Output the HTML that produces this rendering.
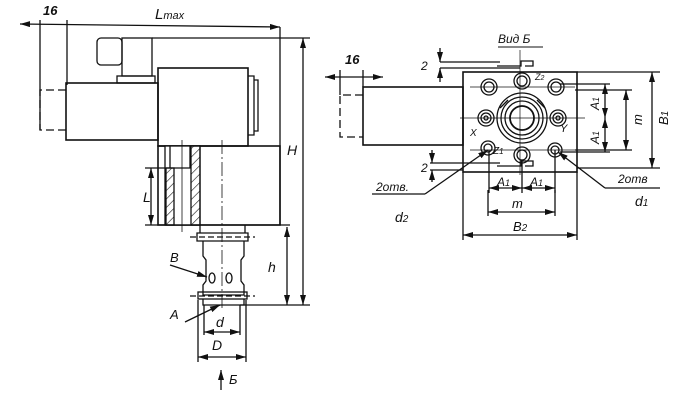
<!DOCTYPE html>
<html><head><meta charset="utf-8"><style>
html,body{margin:0;padding:0;background:#fff;width:679px;height:401px;overflow:hidden}
text{font-family:"Liberation Sans",sans-serif;font-style:italic;fill:#111}
</style></head><body>
<svg width="679" height="401" viewBox="0 0 679 401" xmlns="http://www.w3.org/2000/svg">
<defs>
<marker id="a" viewBox="0 0 10 6" refX="10" refY="3" markerWidth="10" markerHeight="6" orient="auto-start-reverse" markerUnits="userSpaceOnUse"><path d="M0,0L10,3L0,6z" fill="#111"/></marker>
<pattern id="h" width="6" height="6" patternUnits="userSpaceOnUse" patternTransform="rotate(45)"><line x1="0" y1="0" x2="0" y2="6" stroke="#111" stroke-width="1.2"/></pattern>
</defs>
<g stroke="#111" fill="none" stroke-width="1.3">
<!-- LEFT VIEW -->
<line x1="20" y1="24" x2="280" y2="27" marker-start="url(#a)" marker-end="url(#a)"/>
<line x1="40" y1="20" x2="40" y2="130"/>
<line x1="67" y1="20" x2="67" y2="85"/>
<rect x="97" y="38" width="25" height="27" rx="4"/>
<rect x="122" y="38" width="30" height="38"/>
<rect x="117" y="76" width="38" height="7"/>
<line x1="152" y1="38" x2="310" y2="38"/>
<line x1="280" y1="27" x2="280" y2="225"/>
<rect x="66" y="83" width="92" height="57" stroke-width="1.6"/>
<path d="M66,90H40V130H66" stroke-dasharray="8,4"/>
<rect x="158" y="68" width="90" height="78" stroke-width="1.6"/>
<path d="M248,76h6v59h-6M254,80h4v51h-4"/>
<rect x="158" y="146" width="122" height="79" stroke-width="1.6"/>
<rect x="165" y="146" width="35" height="79" fill="#fff"/>
<rect x="166" y="168" width="8" height="57" fill="url(#h)"/>
<rect x="191" y="146" width="9" height="79" fill="url(#h)"/>
<line x1="170" y1="146" x2="170" y2="168"/><line x1="190" y1="146" x2="190" y2="168"/>
<line x1="166" y1="168" x2="191" y2="168"/>
<line x1="182" y1="140" x2="182" y2="232" stroke-width="0.8"/>
<line x1="222" y1="140" x2="222" y2="310" stroke-width="0.8" stroke-dasharray="14,3,2,3"/>
<line x1="145" y1="168" x2="165" y2="168"/>
<line x1="145" y1="225" x2="290" y2="225"/>
<line x1="151" y1="168" x2="151" y2="225" marker-start="url(#a)" marker-end="url(#a)"/>
<!-- cartridge -->
<path d="M200,225v8h45v-8M197,233h51v8h-51zM203,241v15l3,4v21l-3,4v10h41v-10l-3,-4v-21l3,-4v-15"/>
<rect x="198" y="292" width="49" height="7"/>
<path d="M203,299v6h41v-6"/>
<line x1="190" y1="237" x2="255" y2="237" stroke-dasharray="6,3"/>
<line x1="190" y1="296" x2="255" y2="296" stroke-dasharray="6,3"/>
<ellipse cx="212" cy="278" rx="3" ry="5"/><ellipse cx="229" cy="278" rx="3" ry="5"/>
<line x1="240" y1="305" x2="310" y2="305"/>
<line x1="287" y1="227" x2="287" y2="305" marker-start="url(#a)" marker-end="url(#a)"/>
<line x1="303" y1="38" x2="303" y2="305" marker-start="url(#a)" marker-end="url(#a)"/>
<line x1="170" y1="265" x2="207" y2="277" marker-end="url(#a)"/>
<line x1="185" y1="322" x2="220" y2="305" marker-end="url(#a)"/>
<line x1="204" y1="305" x2="204" y2="335"/><line x1="240" y1="305" x2="240" y2="335"/>
<line x1="198" y1="300" x2="198" y2="362"/><line x1="246" y1="300" x2="246" y2="362"/>
<line x1="204" y1="332" x2="240" y2="332" marker-start="url(#a)" marker-end="url(#a)"/>
<line x1="198" y1="357" x2="246" y2="357" marker-start="url(#a)" marker-end="url(#a)"/>
<line x1="221" y1="390" x2="221" y2="370" marker-end="url(#a)"/>
<!-- RIGHT VIEW -->
<line x1="325" y1="77" x2="383" y2="77" marker-start="url(#a)" marker-end="url(#a)"/>
<line x1="340" y1="70" x2="340" y2="95"/><line x1="363" y1="70" x2="363" y2="87"/>
<rect x="363" y="87" width="100" height="58" stroke-width="1.6"/>
<path d="M363,95H340V137H363" stroke-dasharray="8,4"/>
<rect x="463" y="72" width="114" height="100" stroke-width="1.6"/>
<line x1="463" y1="172" x2="463" y2="240"/><line x1="577" y1="172" x2="577" y2="240"/>
<line x1="463" y1="235" x2="577" y2="235" marker-start="url(#a)" marker-end="url(#a)"/>
<line x1="489" y1="150" x2="489" y2="193"/><line x1="555" y1="150" x2="555" y2="193"/>
<line x1="522" y1="160" x2="522" y2="193"/>
<line x1="489" y1="188" x2="522" y2="188" marker-start="url(#a)" marker-end="url(#a)"/>
<line x1="522" y1="188" x2="555" y2="188" marker-start="url(#a)" marker-end="url(#a)"/>
<line x1="488" y1="212" x2="555" y2="212" marker-start="url(#a)" marker-end="url(#a)"/>
<line x1="488" y1="190" x2="488" y2="216"/><line x1="555" y1="190" x2="555" y2="216"/>
<line x1="577" y1="72" x2="660" y2="72"/><line x1="577" y1="168" x2="660" y2="168"/>
<line x1="652" y1="72" x2="652" y2="168" marker-start="url(#a)" marker-end="url(#a)"/>
<line x1="560" y1="84" x2="610" y2="84"/><line x1="560" y1="152" x2="610" y2="152"/>
<line x1="605" y1="84" x2="605" y2="118" marker-start="url(#a)" marker-end="url(#a)"/>
<line x1="605" y1="118" x2="605" y2="152" marker-start="url(#a)" marker-end="url(#a)"/>
<line x1="575" y1="90" x2="632" y2="90"/><line x1="575" y1="150" x2="632" y2="150"/>
<line x1="626" y1="90" x2="626" y2="150" marker-start="url(#a)" marker-end="url(#a)"/>
<line x1="440" y1="62" x2="500" y2="62"/><line x1="440" y1="68" x2="520" y2="68"/>
<line x1="440" y1="48" x2="440" y2="62" marker-end="url(#a)"/><line x1="440" y1="82" x2="440" y2="68" marker-end="url(#a)"/>
<line x1="430" y1="163" x2="500" y2="163"/><line x1="430" y1="170" x2="463" y2="170"/>
<line x1="432" y1="150" x2="432" y2="163" marker-end="url(#a)"/><line x1="432" y1="182" x2="432" y2="170" marker-end="url(#a)"/>
<path d="M497,66h24v-5h12v5h-8M497,166h24v-5h12v5h-8"/>
<line x1="520" y1="50" x2="520" y2="175" stroke-width="0.7"/>
<line x1="460" y1="118" x2="585" y2="118" stroke-width="0.7"/>
<line x1="470" y1="87" x2="575" y2="87" stroke-width="0.7"/>
<line x1="470" y1="150" x2="575" y2="150" stroke-width="0.7"/>
<circle cx="522" cy="118" r="25"/><circle cx="522" cy="118" r="21"/><circle cx="522" cy="118" r="17"/><circle cx="522" cy="118" r="12" stroke-width="1.8"/>
<g>
<circle cx="489" cy="87" r="8"/><circle cx="489" cy="87" r="5"/>
<circle cx="522" cy="81" r="8"/><circle cx="522" cy="81" r="5"/>
<circle cx="556" cy="87" r="8"/><circle cx="556" cy="87" r="5"/>
<circle cx="486" cy="118" r="8"/><circle cx="486" cy="118" r="5"/><circle cx="486" cy="118" r="2"/>
<circle cx="558" cy="118" r="8"/><circle cx="558" cy="118" r="5"/><circle cx="558" cy="118" r="2"/>
<circle cx="488" cy="148" r="7"/><circle cx="488" cy="148" r="4"/>
<circle cx="522" cy="155" r="8"/><circle cx="522" cy="155" r="5"/>
<circle cx="555" cy="150" r="7"/><circle cx="555" cy="150" r="4"/>
</g>
<line x1="425" y1="194" x2="488" y2="150" marker-end="url(#a)"/>
<line x1="372" y1="194" x2="425" y2="194"/>
<line x1="605" y1="188" x2="558" y2="152" marker-end="url(#a)"/>
<line x1="605" y1="188" x2="660" y2="188"/>
<line x1="508" y1="100" x2="500" y2="108"/><line x1="537" y1="100" x2="545" y2="108"/>
</g>
<g font-size="13">
<text x="43" y="15" font-weight="bold">16</text>
<text x="155" y="19" font-size="15">L<tspan font-size="11">max</tspan></text>
<text x="287" y="155" font-size="14">H</text>
<text x="143" y="202" font-size="14">L</text>
<text x="268" y="272" font-size="14">h</text>
<text x="170" y="262">B</text>
<text x="170" y="319">A</text>
<text x="216" y="327" font-size="14">d</text>
<text x="212" y="350" font-size="14">D</text>
<text x="229" y="384">Б</text>
<text x="498" y="43" font-size="12">Вид Б</text>
<line x1="498" y1="47" x2="543" y2="47" stroke="#111"/>
<text x="345" y="64" font-weight="bold">16</text>
<text x="421" y="70" font-size="12">2</text>
<text x="421" y="172" font-size="12">2</text>
<text x="470" y="136" font-size="10">X</text>
<text x="560" y="132" font-size="11">Y</text>
<text x="493" y="154" font-size="10">Z<tspan font-size="8">1</tspan></text>
<text x="535" y="80" font-size="9">Z<tspan font-size="7">2</tspan></text>
<text x="497" y="186" font-size="12">A<tspan font-size="9">1</tspan></text>
<text x="530" y="186" font-size="12">A<tspan font-size="9">1</tspan></text>
<text x="512" y="208">m</text>
<text x="513" y="231">B<tspan font-size="10">2</tspan></text>
<text x="588" y="107" font-size="12" transform="rotate(-90 595 103)">A<tspan font-size="9">1</tspan></text>
<text x="588" y="141" font-size="12" transform="rotate(-90 595 137)">A<tspan font-size="9">1</tspan></text>
<text x="632" y="125" transform="rotate(-90 637 120)">m</text>
<text x="657" y="126" transform="rotate(-90 662 120)">B<tspan font-size="10">1</tspan></text>
<text x="376" y="191" font-size="12">2отв.</text>
<text x="395" y="222" font-size="14">d<tspan font-size="10">2</tspan></text>
<text x="618" y="183" font-size="12">2отв</text>
<text x="635" y="206" font-size="14">d<tspan font-size="10">1</tspan></text>
</g>
</svg>
</body></html>
